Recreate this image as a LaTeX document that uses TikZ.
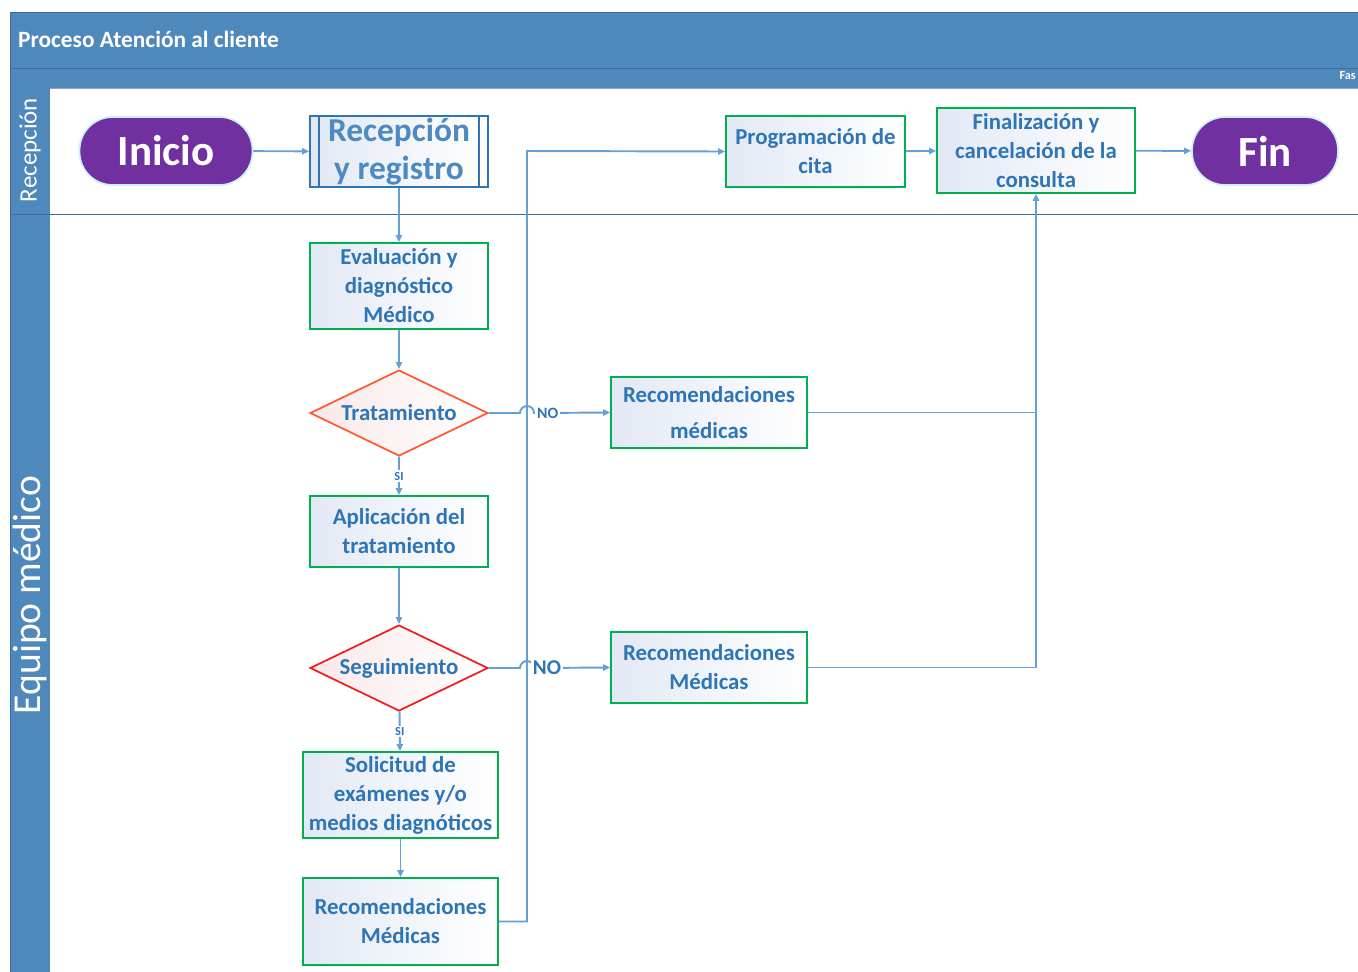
\documentclass[tikz,border=0pt]{standalone}
\usepackage{fontspec}
\setmainfont{Carlito}
\usetikzlibrary{shapes.geometric,arrows.meta,positioning,calc}
\definecolor{PoolBlue}{RGB}{79,136,187}
\definecolor{PoolEdge}{RGB}{62,111,156}
\definecolor{FlowBlue}{RGB}{46,117,182}
\definecolor{LineBlue}{RGB}{100,160,215}
\definecolor{BoxGreen}{RGB}{0,176,80}
\definecolor{TermPurple}{RGB}{112,48,160}
\definecolor{DecOrange}{RGB}{255,90,50}
\definecolor{DecRed}{RGB}{240,30,30}
\definecolor{BoxTint}{RGB}{226,232,244}
\definecolor{DecTint}{RGB}{248,232,232}
\tikzset{
  term/.style={draw=cyan!20,line width=1pt,fill=TermPurple,rounded corners=0.66cm,
               minimum width=3.46cm,minimum height=1.36cm,text=white,
               font=\fontsize{24.5}{28}\selectfont\bfseries},
  act/.style={draw=BoxGreen,line width=1pt,left color=BoxTint,right color=white,
               text=FlowBlue,align=center,inner sep=1pt,
               minimum width=3.56cm,minimum height=1.42cm,
               font=\fontsize{13}{16.5}\selectfont\bfseries},
  dec/.style={diamond,aspect=2.07,line width=1pt,left color=DecTint,right color=white,
               text=FlowBlue,inner sep=0pt,minimum width=3.56cm,minimum height=1.72cm,
               font=\fontsize{13}{16}\selectfont\bfseries},
  flow/.style={-{Triangle[length=4pt,width=3.5pt]},LineBlue,line width=1.1pt},
  lbl/.style={fill=white,inner sep=1pt,text=FlowBlue,font=\fontsize{9}{10}\selectfont\bfseries},
}
\begin{document}
\begin{tikzpicture}[x=0.02cm,y=-0.02cm]
\useasboundingbox (0,0) rectangle (1358,971);
\clip (0,0) rectangle (1358,971);

% pool and lanes
\fill[PoolBlue] (10,12) rectangle (1380,88);
\draw[PoolEdge] (10,12) -- (1380,12);
\draw[PoolEdge] (10,68) -- (1380,68);
\draw[PoolEdge!60] (10,88) -- (1380,88);
\fill[PoolBlue] (10,88) rectangle (50,990);
\draw[PoolEdge] (10,12) -- (10,990);
\draw[PoolEdge] (10,214) -- (1380,214);
\node[anchor=west,text=white,font=\fontsize{13.3}{16}\selectfont\bfseries] (title) at (12,39) {Proceso Atención al cliente};
\node[anchor=east,text=white,inner sep=0.5pt,font=\fontsize{7}{8}\selectfont\bfseries] (fase) at (1357,76) {Fas};
\node[rotate=90,text=white,font=\fontsize{14.2}{16}\selectfont] (laneA) at (30,150) {Recepción};
\node[rotate=90,text=white,font=\fontsize{22.5}{25}\selectfont] (laneB) at (30,595) {Equipo médico};

% nodes
\node[term] (inicio) at (166,151) {Inicio};
\node[act,draw=FlowBlue,text=FlowBlue!85,font=\fontsize{19}{21.5}\selectfont\bfseries] (recep) at (399,151.5) {Recepción\\y registro};
\draw[FlowBlue,line width=1pt] ([xshift=0.2cm]recep.north west) -- ([xshift=0.2cm]recep.south west);
\draw[FlowBlue,line width=1pt] ([xshift=-0.2cm]recep.north east) -- ([xshift=-0.2cm]recep.south east);
\node[act,minimum width=3.58cm] (prog) at (815.5,151.5) {Programación de\\cita};
\node[act,minimum width=3.96cm,minimum height=1.7cm] (final) at (1036,150.5) {Finalización y\\cancelación de la\\consulta};
\node[term,minimum width=2.92cm] (fin) at (1265,151) {Fin};
\node[act,minimum height=1.72cm] (eval) at (399,286) {Evaluación y\\diagnóstico\\Médico};
\node[dec,draw=DecOrange] (trat) at (399,413) {Tratamiento};
\node[act,minimum width=3.92cm] (recA) at (709,412.5) {Recomendaciones\\[4pt]médicas};
\node[act] (aplic) at (399,531.5) {Aplicación del\\tratamiento};
\node[dec,draw=DecRed] (segui) at (399,668) {Seguimiento};
\node[act,minimum width=3.92cm] (recB) at (709,667.5) {Recomendaciones\\Médicas};
\node[act,minimum width=3.9cm,minimum height=1.72cm] (solic) at (400.5,795) {Solicitud de\\exámenes y/o\\medios diagnóticos};
\node[act,minimum width=3.9cm,minimum height=1.74cm] (recC) at (400.5,921.5) {Recomendaciones\\Médicas};

\coordinate (bus) at (527,151);
\coordinate (join) at (final.south |- recA.east);

% connectors
\draw[flow] (inicio) -- (recep);
\draw[flow] (recep) -- (eval);
\draw[flow] (eval) -- (trat);
\draw[flow] (trat.east) -- (520,413) arc[start angle=180,end angle=360,radius=7]
  -- node[lbl,pos=0.18] {NO} (recA.west);
\draw[flow] (trat) -- node[lbl,font=\fontsize{7}{8}\selectfont\bfseries] {SI} (aplic);
\draw[flow] (aplic) -- (segui);
\draw[flow] (segui.east) -- (520,668) arc[start angle=180,end angle=360,radius=7]
  -- node[lbl,pos=0.17,font=\fontsize{12}{13}\selectfont\bfseries] {NO} (recB.west);
\draw[flow] (segui) -- node[lbl,font=\fontsize{7}{8}\selectfont\bfseries] {SI} (solic);
\draw[flow] (solic) -- (recC);
\draw[flow] (recC.east) -| (bus) -- (prog.west);
\draw[flow] (prog) -- (final);
\draw[flow] (final) -- (fin);
\draw[flow] (recA.east) -| (final.south);
\draw[LineBlue,line width=1.1pt] (recB.east) -| (join);
\end{tikzpicture}
\end{document}
